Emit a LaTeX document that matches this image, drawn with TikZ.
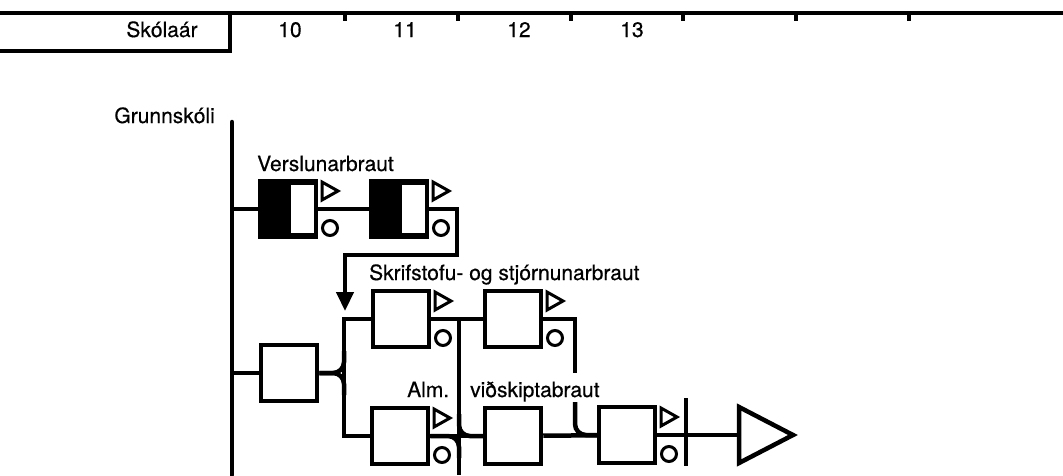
\documentclass[tikz,border=0pt]{standalone}
\usepackage{fontspec}
\setmainfont[FakeBold=0.5]{TeX Gyre Heros}
\usetikzlibrary{arrows.meta}

\begin{document}
\begin{tikzpicture}
[x=1pt,y=-1pt,
  lineDecorate/.style={line width=4.5pt},%
  filletDecorate/.style={line width=4.5pt,rounded corners=11pt},%
  boxDecorate/.style={shape=rectangle,draw,line width=4.5pt,minimum size=56pt,inner sep=0pt},%
  markDecorate/.style={line width=3pt,line join=miter},%
  textDecorate/.style={inner sep=0pt,font=\fontsize{21}{25}\selectfont}]
\useasboundingbox (0,0) rectangle (1063,475);
%% school years axis
\coordinate (axisL) at (0,13);
\coordinate (axisR) at (1063,13);
\coordinate (axisC) at (230,13);
\coordinate (baseL) at (0,51);
\draw[line width=4.5pt] (axisL) -- (axisR);
\draw[lineDecorate] (axisC) |- (baseL);
\foreach \x in {345,458,571,683,796,909}
  \draw[line width=3.5pt] (\x,13) -- (\x,21);
\node[textDecorate,anchor=base] (year) at (162,37) {Skólaár};
\foreach \yearname/\x in {10/290, 11/405, 12/519, 13/632}
{
  \node[textDecorate,anchor=base] (y\yearname) at (\x,37) {\yearname};
}
%% trunk
\node[textDecorate,anchor=base east] (grunn) at (215,123) {Grunnskóli};
\coordinate (gtop) at (232,122);
\coordinate (gbot) at (232,475);
\draw[lineDecorate,line cap=round] (gtop) -- (gbot);
%% boxes
\foreach \nodename/\x/\y in {
  v1/288/209, v2/399/209}
{
  \node[boxDecorate,fill] (\nodename) at (\x,\y) {};
  \fill[white] ([shift={(3,-24)}]\nodename.center) rectangle ([shift={(25.8,24)}]\nodename.center);
}
\foreach \nodename/\x/\y in {
  s1/401/319, s2/513/319, a/289/373,
  b1/400/436, b2/513/436, b3/627/435}
{
  \node[boxDecorate] (\nodename) at (\x,\y) {};
}
%% triangle and circle beside a box
\foreach \nodename in {v1,v2,s1,s2,b1,b3}
{
  \draw[markDecorate] ([shift={(34,-27)}]\nodename.center) -- ++(0,18) -- ++(16,-9) -- cycle;
  \draw[markDecorate] ([shift={(42,19)}]\nodename.center) circle (7.5);
}
%% labels
\node[textDecorate,anchor=base west] (vers) at (257,171) {Verslunarbraut};
\node[textDecorate,anchor=base west] (skrif) at (369,280) {Skrifstofu- og stjórnunarbraut};
\node[textDecorate,anchor=base west] (alm) at (407,397) {Alm.};
\node[textDecorate,anchor=base west] (vid) at (470,397) {viðskiptabraut};
%% connectors
\coordinate (loopA) at (457,255);
\coordinate (loopB) at (345,311);
\coordinate (fork) at (344,373);
\coordinate (dropTop) at (459,319);
\coordinate (dropMid) at (459,436);
\coordinate (dropBot) at (459,475);
\coordinate (sideTop) at (575,373);
\coordinate (sideBot) at (575,402);
\coordinate (bar) at (686,432);
\coordinate (outIn) at (739,435);
\draw[lineDecorate] (v1.west -| gtop) -- (v1.west);
\draw[lineDecorate] (v1) -- (v2);
\draw[lineDecorate,-{Triangle[width=17pt,length=19pt]}] (v2.east) -| (loopA) -| (loopB);
\draw[lineDecorate] (a.west -| gtop) -- (a.west);
\draw[lineDecorate] (s1.west) -| (fork) |- (b1.west);
\draw[filletDecorate] (a.east) -- (fork) -- ++(0,-22);
\draw[filletDecorate] (a.east) -- (fork) -- ++(0,22);
\draw[lineDecorate] (s1) -- (s2);
\draw[lineDecorate] (dropTop) -- (dropBot);
\draw[lineDecorate] (b1) -- (b2);
\draw[filletDecorate] (b1.east) -- (dropMid) -- ++(0,22);
\draw[filletDecorate] ([shift={(0,-22)}]dropMid) -- (dropMid) -- (b2.west);
\draw[lineDecorate] (s2.east) -| (sideTop);
\draw[filletDecorate] (sideBot) |- (b3.west);
\draw[lineDecorate] (b2) -- (b3);
\draw[lineDecorate] (b3.east) -- (outIn);
\draw[lineDecorate] ([shift={(0,-34)}]bar) -- ([shift={(0,34)}]bar);
\draw[lineDecorate,line join=miter] ([shift={(0,-28)}]outIn) -- ([shift={(0,28)}]outIn) -- ([shift={(54,0)}]outIn) -- cycle;
\end{tikzpicture}
\end{document}
